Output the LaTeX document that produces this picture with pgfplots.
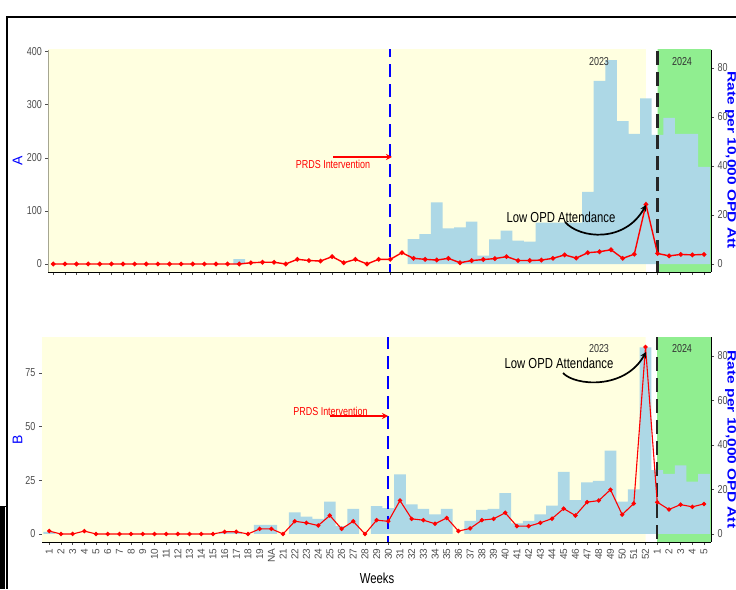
\documentclass[border=0pt]{standalone}
\usepackage{pgfplots}
\pgfplotsset{compat=1.18}
\usepackage{fontspec}
\setmainfont{Liberation Sans}[FakeStretch=0.78]
\newfontfamily\plainfont{Liberation Sans}
\usetikzlibrary{arrows.meta}
\definecolor{bgyellow}{HTML}{FFFFE0}
\definecolor{bggreen}{HTML}{90EE90}
\definecolor{barblue}{HTML}{ADD8E6}
\definecolor{tickgray}{HTML}{4D4D4D}

\pgfplotsset{
  base/.style={
    scale only axis,
    anchor=south west,
    xmax=56.6,
    tick align=outside,
    major tick length=3pt,
    tick style={tickgray, line width=0.6pt},
    axis line style={-, black, line width=0.9pt},
    yticklabel style={font=\fontsize{11.5}{12}\selectfont, text=tickgray},
    /pgf/number format/assume math mode=true,
    xtick={0,...,56},
  },
  redline/.style={red, line width=1.4pt, mark=*, mark size=1.6pt, mark options={fill=red, draw=red}},
}

\begin{document}
\begin{tikzpicture}
\useasboundingbox (0pt,0pt) rectangle (736pt,589pt);

% ---------------- Panel A ----------------
\begin{axis}[base, at={(48.3pt,317pt)}, width=662.7pt, height=222pt,
  xmin=-0.43, ymin=-15, ymax=403, ytick={0,100,200,300,400},
  axis x line*=bottom, axis y line*=left, xticklabel=\empty]
\addplot[fill=bgyellow, draw=none] coordinates {(-5,-100) (51,-100) (51,1000) (-5,1000) (-5,-100)};
\addplot[fill=bggreen, draw=none] coordinates {(52,-100) (60,-100) (60,1000) (52,1000) (52,-100)};
\addplot[ybar, bar width=1, bar shift=0pt, fill=barblue, draw=none] coordinates {
(16,9) (31,47) (32,56.5) (33,116) (34,67) (35,69) (36,80) (37,16) (38,46.5) (39,63) (40,44) (41,42) (42,78) (43,78) (44,78) (45,78) (46,136) (47,345) (48,384) (49,269) (50,245) (51,312) (52,243) (53,275) (54,245) (55,245) (56,183)};
\draw[blue, line width=1.8pt, dash pattern=on 13pt off 7pt] (axis cs:29,-100) -- (axis cs:29,1000);
\draw[black!85, line width=2.2pt, dash pattern=on 14pt off 7pt] (axis cs:52,-100) -- (axis cs:52,1000);
\end{axis}
\begin{axis}[base, at={(48.3pt,317pt)}, width=662.7pt, height=222pt,
  xmin=-0.43, ymin=-3.27, ymax=87.3, ytick={0,20,40,60,80},
  axis y line*=right, axis x line=none]
\addplot[redline] coordinates {
(0,0) (1,0) (2,0) (3,0) (4,0) (5,0) (6,0) (7,0) (8,0) (9,0) (10,0) (11,0) (12,0) (13,0) (14,0) (15,0) (16,0) (17,0.5) (18,0.7) (19,0.7) (20,0) (21,1.9) (22,1.4) (23,1.2) (24,3.0) (25,0.5) (26,1.9) (27,0) (28,1.9) (29,1.9) (30,4.6) (31,2.3) (32,1.9) (33,1.6) (34,2.3) (35,0.5) (36,1.4) (37,1.8) (38,2.2) (39,3.0) (40,1.4) (41,1.4) (42,1.6) (43,2.3) (44,3.7) (45,2.4) (46,4.6) (47,5.0) (48,5.8) (49,2.3) (50,4.0) (51,24.3) (52,4.3) (53,3.3) (54,3.9) (55,3.7) (56,3.9)};
\end{axis}

% ---------------- Panel B ----------------
\begin{axis}[base, at={(42pt,47pt)}, width=669pt, height=205pt,
  xmin=-0.62, ymin=-3.73, ymax=91.8, ytick={0,25,50,75},
  axis x line*=bottom, axis y line*=left,
  xticklabels={1,2,3,4,5,6,7,8,9,10,11,12,13,14,15,16,17,18,19,NA,21,22,23,24,25,26,27,28,29,30,31,32,33,34,35,36,37,38,39,40,41,42,43,44,45,46,47,48,49,50,51,52,1,2,3,4,5},
  xticklabel style={rotate=90, anchor=east, font=\plainfont\fontsize{10}{10}\selectfont, text=tickgray}]
\addplot[fill=bgyellow, draw=none] coordinates {(-5,-100) (51,-100) (51,1000) (-5,1000) (-5,-100)};
\addplot[fill=bggreen, draw=none] coordinates {(52,-100) (60,-100) (60,1000) (52,1000) (52,-100)};
\addplot[ybar, bar width=1, bar shift=0pt, fill=barblue, draw=none] coordinates {
(0,1) (15,1) (16,1) (18,4.2) (19,4.2) (21,10.1) (22,8.1) (23,7.0) (24,15.1) (25,3.7) (26,11.7) (28,13.0) (29,12) (30,27.8) (31,13.8) (32,11.7) (33,9.2) (34,11.7) (36,6.1) (37,11.2) (38,11.7) (39,19) (40,5.0) (41,6.1) (42,9.2) (43,13.2) (44,29) (45,15.8) (46,24.1) (47,24.8) (48,38.8) (49,15.1) (50,20.8) (51,87) (52,29.8) (53,28) (54,32) (55,24.4) (56,28)};
\draw[blue, line width=1.8pt, dash pattern=on 13pt off 7pt] (axis cs:29,-100) -- (axis cs:29,1000);
\draw[black!85, line width=2.2pt, dash pattern=on 14pt off 7pt] (axis cs:52,-100) -- (axis cs:52,1000);
\end{axis}
\begin{axis}[base, at={(42pt,47pt)}, width=669pt, height=205pt,
  xmin=-0.62, ymin=-3.6, ymax=88.5, ytick={0,20,40,60,80},
  axis y line*=right, axis x line=none]
\addplot[redline, line width=1.1pt] coordinates {
(0,1.3) (1,0) (2,0) (3,1.3) (4,0) (5,0) (6,0) (7,0) (8,0) (9,0) (10,0) (11,0) (12,0) (13,0) (14,0) (15,1.0) (16,1.0) (17,0) (18,2.3) (19,2.3) (20,0) (21,5.7) (22,5.0) (23,3.8) (24,8.3) (25,2.3) (26,5.7) (27,0) (28,6.2) (29,5.7) (30,15.0) (31,6.8) (32,6.2) (33,4.6) (34,7.2) (35,1.3) (36,2.5) (37,6.2) (38,6.8) (39,9.5) (40,3.5) (41,3.5) (42,5.0) (43,6.9) (44,11.4) (45,8.3) (46,14.3) (47,15.0) (48,19.9) (49,8.7) (50,13.7) (51,84) (52,14.3) (53,11.0) (54,13.2) (55,12.2) (56,13.5)};
\end{axis}

% ---------------- Annotations ----------------
\begin{scope}[x=1pt, y=1pt]
% frame
\draw[line width=1.2pt] (736,572) -- (7,572) -- (7,0);
\fill[black] (0,0) rectangle (4.5,82);
\draw[line width=1pt] (0,82) -- (7,82);
% panel A
\node[red, font=\fontsize{11.5}{12}\selectfont] at (333,425) {PRDS Intervention};
\draw[red, line width=1.8pt, -{Stealth[length=6pt, width=6pt]}] (333,432) -- (392,432);
\node[font=\fontsize{14.5}{15}\selectfont] at (561,372) {Low OPD Attendance};
\draw[black, line width=1.7pt, -{Stealth[length=6pt, width=6pt]}] (565,367) .. controls (580,350) and (625,346) .. (646,384);
\node[text=black!80, font=\fontsize{11.5}{12}\selectfont] at (599,527) {2023};
\node[text=black!80, font=\fontsize{11.5}{12}\selectfont] at (682,527) {2024};
\node[blue, rotate=90, font=\plainfont\fontsize{14}{14}\selectfont] at (17.5,428) {A};
\node[blue, xscale=0.78, rotate=-90, inner sep=0pt, font=\plainfont\bfseries\fontsize{15.5}{16}\selectfont] at (730.5,429) {Rate per 10,000 OPD Att};
% panel B
\node[red, font=\fontsize{11.5}{12}\selectfont] at (330.5,178) {PRDS Intervention};
\draw[red, line width=1.8pt, -{Stealth[length=6pt, width=6pt]}] (330,173) -- (388,173);
\node[font=\fontsize{14.5}{15}\selectfont] at (559,226) {Low OPD Attendance};
\draw[black, line width=1.7pt, -{Stealth[length=6pt, width=6pt]}] (563,216) .. controls (575,203) and (625,199) .. (646,237);
\node[text=black!80, font=\fontsize{11.5}{12}\selectfont] at (599,240) {2023};
\node[text=black!80, font=\fontsize{11.5}{12}\selectfont] at (682,240) {2024};
\node[blue, rotate=90, font=\plainfont\fontsize{14}{14}\selectfont] at (17.5,149) {B};
\node[blue, xscale=0.78, rotate=-90, inner sep=0pt, font=\plainfont\bfseries\fontsize{15.5}{16}\selectfont] at (730.5,149.5) {Rate per 10,000 OPD Att};
\node[font=\fontsize{14.5}{15}\selectfont] at (377,11) {Weeks};
\end{scope}
\end{tikzpicture}
\end{document}
